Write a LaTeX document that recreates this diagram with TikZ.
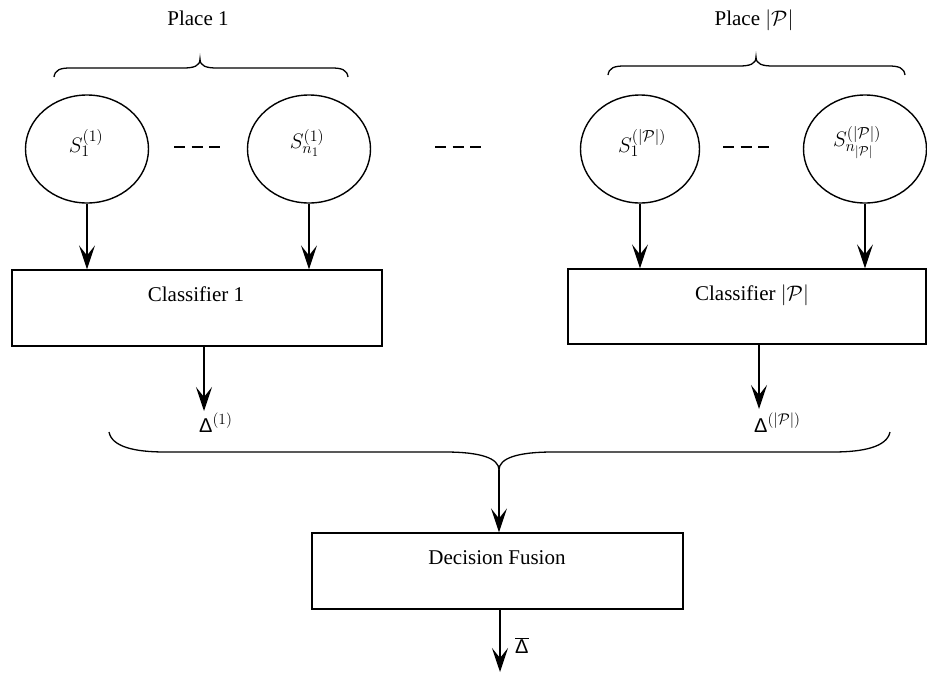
\documentclass[tikz,border=0pt]{standalone}
\usepackage{fix-cm}
\usepackage{fontspec}
\setmainfont{Liberation Serif}
\newfontfamily\sansdelta{Liberation Sans}
\DeclareMathSizes{21}{21}{16}{13}
\DeclareMathSizes{20}{20}{15.5}{12.5}
\usetikzlibrary{shapes.geometric,arrows.meta}
\begin{document}
\begin{tikzpicture}[x=1pt,y=-1pt,
  sens/.style={draw, line width=1.4pt, ellipse, minimum width=123pt, minimum height=108pt, inner sep=0pt},
  box/.style={draw, line width=1.2pt, rectangle, inner sep=0pt},
  arr/.style={line width=1.8pt, -{Stealth[length=24pt,width=16pt,inset=10pt]}},
  brc/.style={line width=1.3pt},
  dots/.style={line width=2pt, dash pattern=on 11pt off 6.5pt},
  txt/.style={font=\fontsize{21}{25}\selectfont, inner sep=0pt},
  dtxt/.style={font=\fontsize{20}{24}\selectfont, inner sep=0pt, anchor=base west},
]
\useasboundingbox (0,0) rectangle (927,673);
\clip (0,0) rectangle (927,673);

% place labels
\node[txt, anchor=base] (p1) at (198,25) {Place 1};
\node[txt, anchor=base] (p2) at (754,25) {Place $|\mathcal{P}|$};

% top braces
\draw[brc] (54,77) .. controls (55,70) and (60,68) .. (70,68) -- (183,68)
  .. controls (194,68) and (200,66) .. (200,59)
  .. controls (200,66) and (206,68) .. (217,68) -- (332,68)
  .. controls (342,68) and (347,70) .. (348,77);
\draw[brc] (608,75) .. controls (609,68) and (614,66) .. (624,66) -- (739,66)
  .. controls (750,66) and (756,64) .. (756,57)
  .. controls (756,64) and (762,66) .. (773,66) -- (889,66)
  .. controls (899,66) and (904,68) .. (905,75);

% sensors
\node[sens] (c1) at (87,149) {};
\node[sens] (c2) at (309,149) {};
\node[sens, minimum width=119pt] (c3) at (640,149) {};
\node[sens] (c4) at (865,149) {};
\node[txt] (l1) at (86,143) {$S_1^{(1)}$};
\node[txt] (l2) at (307,143) {$S_{n_1}^{(1)}$};
\node[txt] (l3) at (642,143) {$S_1^{(|\mathcal{P}|)}$};
\node[txt] (l4) at (857,143) {$S_{n_{|\mathcal{P}|}}^{(|\mathcal{P}|)}$};

% dashes
\coordinate (da1) at (174,147); \coordinate (db1) at (220,147);
\coordinate (da2) at (435,147); \coordinate (db2) at (481,147);
\coordinate (da3) at (723,147); \coordinate (db3) at (769,147);
\draw[dots] (da1) -- (db1);
\draw[dots] (da2) -- (db2);
\draw[dots] (da3) -- (db3);

% classifiers
\node[box, minimum width=370pt, minimum height=76pt] (cl1) at (197,308) {};
\node[box, minimum width=358pt, minimum height=75pt] (cl2) at (747,306.5) {};
\node[txt, anchor=base] (t1) at (196,301) {Classifier 1};
\node[txt, anchor=base] (t2) at (752,300) {Classifier $|\mathcal{P}|$};

\draw[arr] (c1.south) -- (c1.south |- cl1.north);
\draw[arr] (c2.south) -- (c2.south |- cl1.north);
\draw[arr] (c3.south) -- (c3.south |- cl2.north);
\draw[arr] (c4.south) -- (c4.south |- cl2.north);

\coordinate (d1) at (204,411);
\coordinate (d2) at (759,409);
\draw[arr] (cl1.south -| d1) -- (d1);
\draw[arr] (cl2.south -| d2) -- (d2);
\node[dtxt] (dl1) at (199,432) {{\sansdelta Δ}$^{(1)}$};
\node[dtxt] (dl2) at (754,432) {{\sansdelta Δ}$^{(|\mathcal{P}|)}$};

% big brace
\draw[brc] (109,432) .. controls (112,447) and (135,452) .. (165,452) -- (445,452)
  .. controls (480,452) and (499,458) .. (499,470)
  .. controls (499,458) and (518,452) .. (553,452) -- (833,452)
  .. controls (863,452) and (887,447) .. (890,432);
\coordinate (bt) at (499,470);

% decision fusion
\node[box, minimum width=371pt, minimum height=76pt] (dec) at (497.5,571) {};
\node[txt, anchor=base] (t3) at (497,564) {Decision Fusion};
\draw[arr] (bt) -- (bt |- dec.north);
\coordinate (out) at (500,672);
\draw[arr] (dec.south -| out) -- (out);
\node[dtxt] (db) at (515,653) {$\overline{\hbox{\sansdelta Δ}}$};
\end{tikzpicture}
\end{document}
